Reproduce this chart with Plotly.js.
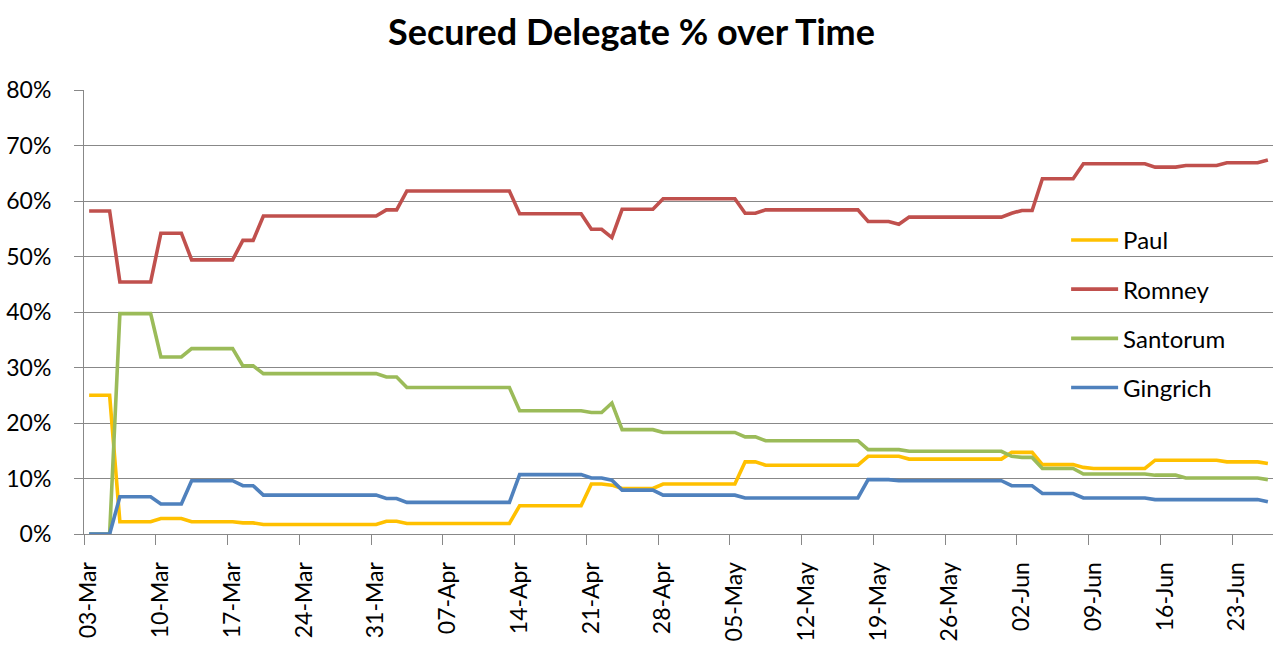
<!DOCTYPE html>
<html>
<head>
<meta charset="utf-8">
<script src="https://cdn.plot.ly/plotly-3.0.1.min.js"></script>
<style>
  html, body { margin: 0; padding: 0; background: #fff; }
  #chart { width: 1281px; height: 651px; }
</style>
</head>
<body>
<div id="chart"></div>
<script>
// one value per day, starting 03-Mar-2012 (rows are weeks)
var startDate = '2012-03-03';

var paul = [
  25.0, 25.0, 25.0, 2.2, 2.2, 2.2, 2.2,
  2.8, 2.8, 2.8, 2.2, 2.2, 2.2, 2.2,
  2.2, 2.0, 2.0, 1.7, 1.7, 1.7, 1.7,
  1.7, 1.7, 1.7, 1.7, 1.7, 1.7, 1.7,
  1.7, 2.3, 2.3, 1.9, 1.9, 1.9, 1.9,
  1.9, 1.9, 1.9, 1.9, 1.9, 1.9, 1.9,
  5.1, 5.1, 5.1, 5.1, 5.1, 5.1, 5.1,
  9.0, 9.0, 8.8, 8.2, 8.2, 8.2, 8.2,
  9.0, 9.0, 9.0, 9.0, 9.0, 9.0, 9.0,
  9.0, 13.0, 13.0, 12.4, 12.4, 12.4, 12.4,
  12.4, 12.4, 12.4, 12.4, 12.4, 12.4, 14.0,
  14.0, 14.0, 14.0, 13.5, 13.5, 13.5, 13.5,
  13.5, 13.5, 13.5, 13.5, 13.5, 13.5, 14.7,
  14.7, 14.7, 12.5, 12.5, 12.5, 12.5, 12.0,
  11.8, 11.8, 11.8, 11.8, 11.8, 11.8, 13.3,
  13.3, 13.3, 13.3, 13.3, 13.3, 13.3, 13.0,
  13.0, 13.0, 13.0, 12.7
];

var romney = [
  58.2, 58.2, 58.2, 45.4, 45.4, 45.4, 45.4,
  54.2, 54.2, 54.2, 49.4, 49.4, 49.4, 49.4,
  49.4, 52.9, 52.9, 57.3, 57.3, 57.3, 57.3,
  57.3, 57.3, 57.3, 57.3, 57.3, 57.3, 57.3,
  57.3, 58.4, 58.4, 61.8, 61.8, 61.8, 61.8,
  61.8, 61.8, 61.8, 61.8, 61.8, 61.8, 61.8,
  57.7, 57.7, 57.7, 57.7, 57.7, 57.7, 57.7,
  54.9, 54.9, 53.4, 58.5, 58.5, 58.5, 58.5,
  60.4, 60.4, 60.4, 60.4, 60.4, 60.4, 60.4,
  60.4, 57.8, 57.8, 58.4, 58.4, 58.4, 58.4,
  58.4, 58.4, 58.4, 58.4, 58.4, 58.4, 56.3,
  56.3, 56.3, 55.8, 57.1, 57.1, 57.1, 57.1,
  57.1, 57.1, 57.1, 57.1, 57.1, 57.1, 57.8,
  58.3, 58.3, 64.0, 64.0, 64.0, 64.0, 66.7,
  66.7, 66.7, 66.7, 66.7, 66.7, 66.7, 66.1,
  66.1, 66.1, 66.4, 66.4, 66.4, 66.4, 66.9,
  66.9, 66.9, 66.9, 67.4
];

var santorum = [
  0, 0, 0, 39.7, 39.7, 39.7, 39.7,
  31.9, 31.9, 31.9, 33.4, 33.4, 33.4, 33.4,
  33.4, 30.3, 30.3, 28.9, 28.9, 28.9, 28.9,
  28.9, 28.9, 28.9, 28.9, 28.9, 28.9, 28.9,
  28.9, 28.3, 28.3, 26.4, 26.4, 26.4, 26.4,
  26.4, 26.4, 26.4, 26.4, 26.4, 26.4, 26.4,
  22.2, 22.2, 22.2, 22.2, 22.2, 22.2, 22.2,
  21.9, 21.9, 23.6, 18.8, 18.8, 18.8, 18.8,
  18.3, 18.3, 18.3, 18.3, 18.3, 18.3, 18.3,
  18.3, 17.5, 17.5, 16.8, 16.8, 16.8, 16.8,
  16.8, 16.8, 16.8, 16.8, 16.8, 16.8, 15.2,
  15.2, 15.2, 15.2, 14.9, 14.9, 14.9, 14.9,
  14.9, 14.9, 14.9, 14.9, 14.9, 14.9, 14.0,
  13.8, 13.8, 11.8, 11.8, 11.8, 11.8, 10.8,
  10.8, 10.8, 10.8, 10.8, 10.8, 10.8, 10.6,
  10.6, 10.6, 10.1, 10.1, 10.1, 10.1, 10.1,
  10.1, 10.1, 10.1, 9.8
];

var gingrich = [
  0, 0, 0, 6.7, 6.7, 6.7, 6.7,
  5.4, 5.4, 5.4, 9.6, 9.6, 9.6, 9.6,
  9.6, 8.7, 8.7, 7.0, 7.0, 7.0, 7.0,
  7.0, 7.0, 7.0, 7.0, 7.0, 7.0, 7.0,
  7.0, 6.4, 6.4, 5.7, 5.7, 5.7, 5.7,
  5.7, 5.7, 5.7, 5.7, 5.7, 5.7, 5.7,
  10.7, 10.7, 10.7, 10.7, 10.7, 10.7, 10.7,
  10.1, 10.1, 9.7, 7.9, 7.9, 7.9, 7.9,
  7.0, 7.0, 7.0, 7.0, 7.0, 7.0, 7.0,
  7.0, 6.5, 6.5, 6.5, 6.5, 6.5, 6.5,
  6.5, 6.5, 6.5, 6.5, 6.5, 6.5, 9.8,
  9.8, 9.8, 9.6, 9.6, 9.6, 9.6, 9.6,
  9.6, 9.6, 9.6, 9.6, 9.6, 9.6, 8.7,
  8.7, 8.7, 7.3, 7.3, 7.3, 7.3, 6.5,
  6.5, 6.5, 6.5, 6.5, 6.5, 6.5, 6.2,
  6.2, 6.2, 6.2, 6.2, 6.2, 6.2, 6.2,
  6.2, 6.2, 6.2, 5.8
];

var tickLabels = ['03-Mar', '10-Mar', '17-Mar', '24-Mar', '31-Mar', '07-Apr',
  '14-Apr', '21-Apr', '28-Apr', '05-May', '12-May', '19-May', '26-May',
  '02-Jun', '09-Jun', '16-Jun', '23-Jun'];

var names = ['Paul', 'Romney', 'Santorum', 'Gingrich'];
var colors = ['#FFC000', '#C0504D', '#9BBB59', '#4F81BD'];
var series = [paul, romney, santorum, gingrich];

var DAY = 86400000;
var t0 = Date.parse(startDate + 'T00:00:00Z');

function iso(ms) {
  return new Date(ms).toISOString().slice(0, 19).replace('T', ' ');
}

var dates = [];
for (var i = 0; i < paul.length; i++) dates.push(iso(t0 + i * DAY));

// excel puts ticks on day boundaries, labels in the middle of the day
var tickVals = [];
for (var k = 0; k < tickLabels.length; k++) tickVals.push(iso(t0 + (7 * k - 0.5) * DAY));

var data = [];
for (var s = 0; s < series.length; s++) {
  data.push({
    x: dates,
    y: series[s],
    name: names[s],
    legendgroup: names[s],
    type: 'scatter',
    mode: 'lines',
    line: {color: colors[s], width: 3.6},
    hoverinfo: 'x+y+name'
  });
}

var grey = '#888888';
var font = {family: 'Lato, "Open Sans", sans-serif', size: 22, color: '#000'};

var layout = {
  width: 1281,
  height: 651,
  margin: {l: 84, r: 8, t: 90, b: 117},
  paper_bgcolor: '#fff',
  plot_bgcolor: '#fff',
  font: font,
  showlegend: true,
  title: {
    text: '<b>Secured Delegate % over Time</b>',
    font: {family: 'Lato, sans-serif', size: 36, color: '#000'},
    x: 0.493,
    xanchor: 'center',
    y: 0.95,
    yanchor: 'middle',
    yref: 'container'
  },
  xaxis: {
    type: 'date',
    range: [iso(t0 - 0.5 * DAY), iso(t0 + (paul.length - 0.5) * DAY)],
    tickmode: 'array',
    tickvals: tickVals,
    ticktext: tickLabels,
    tickangle: -90,
    tickfont: {size: 23},
    ticklabelshift: 5,
    ticklabelstandoff: 8,
    ticks: 'outside',
    ticklen: 10,
    tickcolor: grey,
    tickwidth: 1,
    showgrid: false,
    showline: true,
    linecolor: grey,
    linewidth: 1,
    zeroline: false,
    fixedrange: true
  },
  yaxis: {
    range: [0, 80],
    dtick: 10,
    ticksuffix: '%',
    tickfont: {size: 23},
    ticks: 'outside',
    ticklen: 9,
    tickcolor: grey,
    ticklabelstandoff: 18,
    showgrid: true,
    gridcolor: grey,
    gridwidth: 1,
    showline: true,
    linecolor: grey,
    linewidth: 1,
    zeroline: false,
    fixedrange: true
  },
  legend: {
    x: 0.826,
    xanchor: 'left',
    y: 0.712,
    yanchor: 'top',
    bgcolor: 'rgba(0,0,0,0)',
    font: {family: 'Lato, sans-serif', size: 24, color: '#000'},
    traceorder: 'grouped',
    tracegroupgap: 15,
    itemwidth: 47
  }
};

Plotly.newPlot('chart', data, layout, {displayModeBar: false, staticPlot: true});
</script>
</body>
</html>
